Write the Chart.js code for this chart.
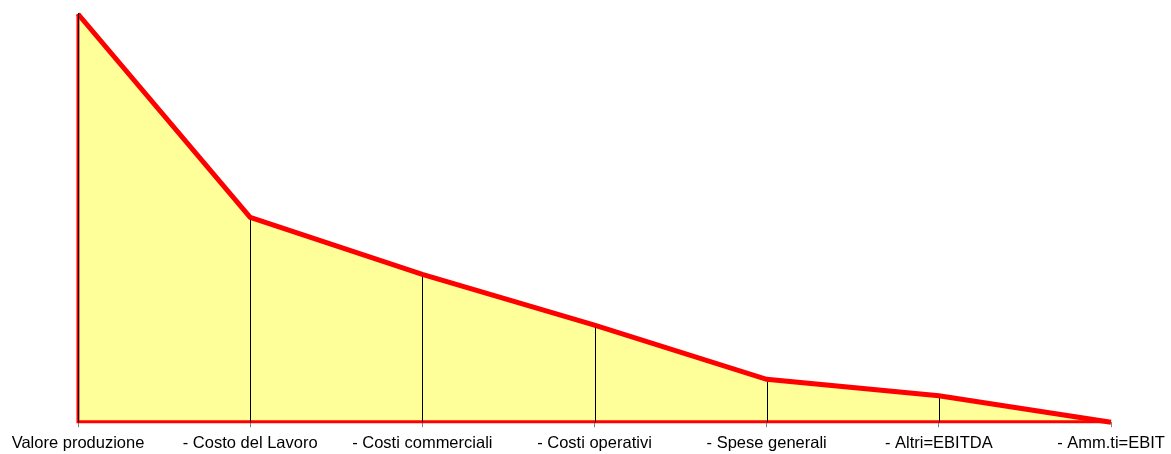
<!DOCTYPE html>
<html>
<head>
<meta charset="utf-8">
<script src="https://cdn.jsdelivr.net/npm/chart.js@4/dist/chart.umd.min.js"></script>
<style>
  html, body { margin: 0; padding: 0; background: #ffffff; }
  #wrap { width: 1171px; height: 454px; }
</style>
</head>
<body>
<div id="wrap"><canvas id="c" width="1171" height="454"></canvas></div>
<script>
// Cascade from production value down to EBIT
const categories = [
  'Valore produzione',
  '- Costo del Lavoro',
  '- Costi commerciali',
  '- Costi operativi',
  '- Spese generali',
  '- Altri=EBITDA',
  '- Amm.ti=EBIT'
];
const values = [100, 50.2, 36.2, 23.8, 10.5, 6.5, 0];

// Excel-style drop lines plus the red outline along the base and left edge
const dropLines = {
  id: 'dropLines',
  afterDatasetsDraw(chart) {
    const meta = chart.getDatasetMeta(0);
    const y0 = chart.scales.y.getPixelForValue(0);
    const pts = meta.data;
    const ctx = chart.ctx;
    ctx.save();
    // red outline: left edge and base
    ctx.strokeStyle = '#ff0000';
    ctx.lineWidth = 3;
    ctx.lineCap = 'butt';
    ctx.beginPath();
    ctx.moveTo(pts[0].x, pts[0].y);
    ctx.lineTo(pts[0].x, y0 - 0.5);
    ctx.lineTo(pts[pts.length - 1].x, y0 - 0.5);
    ctx.stroke();
    // black drop lines from each point to the base
    ctx.strokeStyle = '#000000';
    ctx.lineWidth = 1;
    pts.forEach((p, i) => {
      if (i === pts.length - 1) return;
      const x = Math.round(p.x) + 0.5;
      ctx.beginPath();
      ctx.moveTo(x, i === 0 ? p.y - 1 : p.y + 2.5);
      ctx.lineTo(x, y0);
      ctx.stroke();
    });
    ctx.restore();
  }
};

new Chart(document.getElementById('c'), {
  type: 'line',
  data: {
    labels: categories,
    datasets: [{
      data: values,
      borderColor: '#ff0000',
      borderWidth: 5,
      backgroundColor: '#ffff99',
      fill: 'origin',
      tension: 0,
      pointRadius: 0,
      pointHoverRadius: 0,
      clip: false
    }]
  },
  options: {
    responsive: false,
    animation: false,
    events: [],
    layout: { padding: { left: 78, right: 60, top: 14, bottom: -5 } },
    plugins: {
      legend: { display: false },
      tooltip: { enabled: false }
    },
    scales: {
      x: {
        offset: false,
        grid: {
          display: true,
          drawOnChartArea: false,
          drawTicks: true,
          tickLength: 5,
          color: '#808080'
        },
        border: { display: true, color: '#808080', width: 1 },
        ticks: {
          color: '#000000',
          font: { family: '"Liberation Sans", Arial, sans-serif', size: 16.5 },
          padding: 6,
          maxRotation: 0,
          autoSkip: false
        }
      },
      y: {
        display: false,
        min: 0,
        max: 100
      }
    }
  },
  plugins: [dropLines]
});
</script>
</body>
</html>
